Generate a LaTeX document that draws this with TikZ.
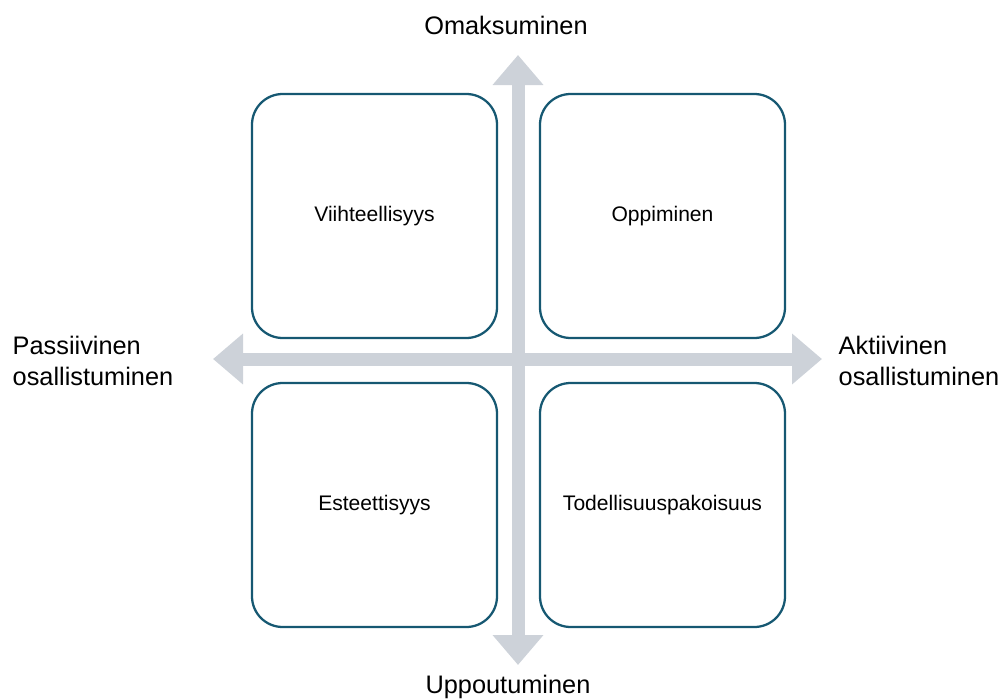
\documentclass[tikz,border=0pt]{standalone}
\usepackage{fontspec}
\setmainfont{Liberation Sans}
\usetikzlibrary{arrows.meta}
\definecolor{boxline}{RGB}{22,88,114}
\definecolor{axisgray}{RGB}{205,210,217}
\begin{document}
\begin{tikzpicture}[x=0.75pt,y=-0.75pt,
box/.style={draw=boxline,line width=1.7pt,rounded corners=23pt,minimum width=183.75pt,minimum height=183pt,font=\fontsize{15.8}{19}\selectfont},
axis/.style={draw=axisgray,line width=9.75pt,{Triangle[width=36.75pt,length=22.5pt]}-{Triangle[width=36.75pt,length=22.5pt]}},
lbl/.style={font=\fontsize{19}{23}\selectfont,align=left}]
\useasboundingbox (0,0) rectangle (1004,700);
\coordinate (N) at (518,55);
\coordinate (S) at (518,665);
\coordinate (W) at (213,359);
\coordinate (E) at (822,359);
\draw[axis] (S) -- (N);
\draw[axis] (W) -- (E);
\node[box] (viihde) at (374.5,216) {Viihteellisyys};
\node[box] (oppi) at (662.5,216) {Oppiminen};
\node[box] (este) at (374.5,505) {Esteettisyys};
\node[box] (pako) at (662.5,505) {Todellisuuspakoisuus};
\node[lbl] (omak) at (506,25) {Omaksuminen};
\node[lbl] (uppo) at (508,687) {Uppoutuminen};
\node[lbl,anchor=west] (passi) at (8,361) {Passiivinen\\osallistuminen};
\node[lbl,anchor=west] (aktii) at (834,361) {Aktiivinen\\osallistuminen};
\end{tikzpicture}
\end{document}
